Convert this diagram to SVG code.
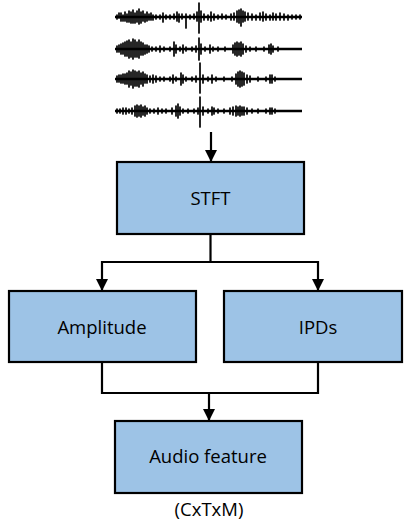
<svg xmlns="http://www.w3.org/2000/svg" width="404" height="522" viewBox="0 0 404 522">
  <style>
    .box { fill: #9dc3e6; stroke: #000; stroke-width: 2.2; }
    .lbl { font-family: "Open Sans", "Noto Sans", sans-serif; font-size: 18.5px; fill: #000; text-anchor: middle; }
    .wire { fill: none; stroke: #000; stroke-width: 2.2; }
    .base { stroke: #000; stroke-width: 2.4; }
    .tick { fill: none; stroke: #000; stroke-width: 1.7; stroke-linecap: round; }
  </style>
  <defs>
    <marker id="arrow" viewBox="0 0 12 12" refX="12" refY="6" markerWidth="12" markerHeight="12" markerUnits="userSpaceOnUse" orient="auto">
      <path d="M0,0 L12,6 L0,12 Z" fill="#000"/>
    </marker>
  </defs>

  <!-- multichannel audio waveforms -->
  <g id="waveforms">
    <g id="wave1">
      <line class="base" x1="115" y1="17" x2="302" y2="17"/>
      <path class="tick" d="M117 15v4M119 13v5M121 13v8M123 15v6M125 12v9M127 14v8M129 11v11M131 12v11M133 10v13M135 13v10M137 11v11M139 9v15M141 12v11M143 11v10M145 14v8M147 12v9M149 14v6M151 13v7M153 15v5M156 15v4M160 15v4M163 13v9M166 15v4M170 15v4M174 14v5M177 12v9M179 14v8M182 14v5M186 14v14M190 15v4M194 14v5M197 12v9M199 3v30M201 11v11M204 14v6M208 15v5M211 12v9M214 14v6M218 15v4M222 14v5M226 15v4M231 14v6M234 13v7M237 11v11M239 10v13M241 9v17M243 11v11M245 12v9M248 13v7M252 14v6M256 15v5M260 13v7M263 12v9M266 14v6M270 15v5M273 13v7M276 14v6M280 13v7M284 14v6M288 15v5M292 15v4M296 15v4M300 15v4"/>
    </g>
    <g id="wave2">
      <line class="base" x1="115" y1="49" x2="302" y2="49"/>
      <path class="tick" d="M117 46v6M119 45v7M121 44v10M123 43v11M125 42v14M127 41v15M129 40v18M131 42v15M133 39v20M135 40v17M137 42v15M139 40v18M141 42v13M143 43v12M145 45v9M147 45v8M149 46v6M152 47v4M156 47v4M160 46v6M164 47v4M170 47v4M174 42v14M176 45v8M180 47v4M183 45v8M186 47v4M192 47v4M196 46v6M199 38v22M201 44v10M205 47v4M210 45v8M213 47v4M218 47v4M225 47v4M233 45v8M235 43v12M237 42v14M239 43v12M241 42v14M243 44v10M246 46v6M250 47v4M256 47v4M264 47v4M269 45v8M271 44v10M273 46v6M278 47v4"/>
    </g>
    <g id="wave3">
      <line class="base" x1="115" y1="79" x2="302" y2="79"/>
      <path class="tick" d="M117 76v6M119 75v7M121 75v8M123 74v9M125 74v10M127 73v11M129 71v16M131 72v13M133 70v18M135 71v15M137 72v14M139 71v16M141 73v11M143 72v14M145 74v9M147 75v8M150 76v6M153 75v8M156 76v6M160 77v4M164 77v4M170 77v4M173 75v8M176 77v4M181 73v12M183 75v8M186 77v4M192 77v4M196 76v6M200 63v30M203 75v8M208 77v4M212 75v8M216 77v4M224 77v4M232 77v4M236 74v10M238 72v14M240 71v16M242 72v14M244 73v12M247 75v8M250 76v6M258 77v4M266 77v4M270 75v8M272 75v8M275 77v4"/>
    </g>
    <g id="wave4">
      <line class="base" x1="115" y1="111" x2="302" y2="111"/>
      <path class="tick" d="M117 109v4M120 109v4M123 108v6M126 108v6M129 109v4M132 108v6M135 106v10M137 105v12M139 106v10M141 105v12M143 107v8M145 106v10M147 108v6M150 109v4M154 109v4M158 108v6M162 109v4M166 109v4M172 108v6M176 106v10M178 104v14M180 107v8M183 109v4M188 109v4M194 109v4M198 108v6M200 97v30M203 107v8M208 109v4M212 107v8M214 108v6M218 109v4M224 109v4M230 108v6M233 107v8M236 106v10M238 107v8M240 106v10M242 107v8M244 107v8M247 108v6M252 109v4M258 109v4M266 109v4M270 108v6M272 108v6M275 109v4"/>
    </g>
  </g>

  <!-- connectors -->
  <g id="connectors">
    <path class="wire" d="M211,132 V162" marker-end="url(#arrow)"/>
    <path class="wire" d="M210.5,234 V262"/>
    <path class="wire" d="M102,262 H318"/>
    <path class="wire" d="M102,261 V291" marker-end="url(#arrow)"/>
    <path class="wire" d="M318,261 V291" marker-end="url(#arrow)"/>
    <path class="wire" d="M102,362 V393 H318 V362"/>
    <path class="wire" d="M209,392 V421" marker-end="url(#arrow)"/>
  </g>

  <g id="stft">
    <rect class="box" x="117" y="162" width="187" height="72"/>
    <text class="lbl" x="210.5" y="205">STFT</text>
  </g>
  <g id="amplitude">
    <rect class="box" x="9" y="291" width="187" height="71"/>
    <text class="lbl" x="102" y="334">Amplitude</text>
  </g>
  <g id="ipds">
    <rect class="box" x="224" y="291" width="178" height="71"/>
    <text class="lbl" x="318" y="334">IPDs</text>
  </g>
  <g id="audio-feature">
    <rect class="box" x="115" y="421" width="187" height="72"/>
    <text class="lbl" x="208" y="463">Audio feature</text>
    <text class="lbl" x="209" y="516">(CxTxM)</text>
  </g>
</svg>
